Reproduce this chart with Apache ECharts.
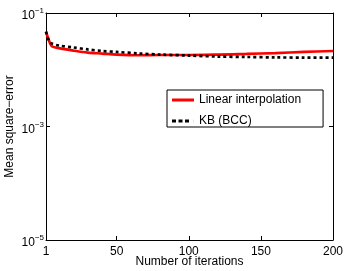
<!DOCTYPE html>
<html><head><meta charset="utf-8">
<script src="https://cdn.jsdelivr.net/npm/echarts@6/dist/echarts.min.js"></script>
<style>html,body{margin:0;padding:0;background:#fff}#c{width:346px;height:271px}</style>
</head><body><div id="c"></div>
<script>
const iterations = [1, 3, 5, 10, 20, 30, 40, 50, 65, 80, 100, 120, 140, 160, 180, 200];
const linearInterp = [0.047, 0.033, 0.026, 0.024, 0.0218, 0.0201, 0.0193, 0.0185, 0.018, 0.0182, 0.0182, 0.0185, 0.019, 0.0197, 0.0206, 0.0214];
const kbBcc = [0.047, 0.033, 0.029, 0.0267, 0.0247, 0.0228, 0.0214, 0.0206, 0.0194, 0.0185, 0.0178, 0.0171, 0.0168, 0.0165, 0.0164, 0.0164];
const xTicks = [1, 50, 100, 150, 200];
const yTicks = [1e-5, 1e-3, 1e-1];
const seriesNames = ['Linear interpolation', 'KB (BCC)'];

const font = 'Liberation Sans, Arial, sans-serif';
const chart = echarts.init(document.getElementById('c'));
const pair = arr => iterations.map((x, i) => [x, arr[i]]);
const expLabel = v => {
  const e = Math.round(Math.log10(v));
  return '{b|10}{s|' + (e < 0 ? '\u2212' : '') + Math.abs(e) + '}';
};
const rich = {
  b: {fontSize: 12, fontFamily: font, color: '#000', padding: [6, 0, 0, 0]},
  s: {fontSize: 8, fontFamily: font, color: '#000', padding: [0, 0, 4, 0]}
};
const solidIcon = 'path://M0,0h22v3h-22z';
const dashIcon = 'path://M0,0h4v3h-4z M6.5,0h4v3h-4z M13,0h4v3h-4z M21.9,0h0.1v3h-0.1z';
chart.setOption({
  animation: false,
  textStyle: {fontFamily: font},
  grid: {left: 46, right: 13, top: 13, bottom: 31, containLabel: false, outerBoundsMode: 'none'},
  xAxis: [{
    type: 'value', min: 1, max: 200,
    name: 'Number of iterations', nameLocation: 'middle', nameGap: 16, nameMoveOverlap: false,
    nameTextStyle: {fontSize: 12, color: '#000', fontFamily: font},
    axisLine: {lineStyle: {color: '#000', width: 1}},
    axisTick: {inside: true, length: 4, customValues: xTicks, lineStyle: {color: '#000'}},
    axisLabel: {customValues: xTicks, fontSize: 12, color: '#000', margin: 6, fontFamily: font},
    splitLine: {show: false}
  }, {
    type: 'value', min: 1, max: 200, position: 'top',
    axisLine: {lineStyle: {color: '#000', width: 1}},
    axisTick: {inside: true, length: 4, customValues: xTicks, lineStyle: {color: '#000'}},
    axisLabel: {show: false}, splitLine: {show: false}
  }],
  yAxis: [{
    type: 'log', logBase: 10, min: 1e-5, max: 1e-1,
    name: 'Mean square\u2212error', nameLocation: 'middle', nameGap: 30, nameMoveOverlap: false,
    nameTextStyle: {fontSize: 12, color: '#000', fontFamily: font},
    axisLine: {show: true, lineStyle: {color: '#000', width: 1}},
    axisTick: {inside: true, length: 4, customValues: yTicks, lineStyle: {color: '#000'}},
    axisLabel: {customValues: yTicks, formatter: expLabel, rich: rich, margin: 2},
    minorTick: {show: false},
    splitLine: {show: false}
  }, {
    type: 'log', logBase: 10, min: 1e-5, max: 1e-1, position: 'right',
    axisLine: {show: true, lineStyle: {color: '#000', width: 1}},
    axisTick: {inside: true, length: 4, customValues: yTicks, lineStyle: {color: '#000'}},
    axisLabel: {show: false}, splitLine: {show: false}
  }],
  legend: {
    orient: 'vertical', left: 167, top: 90,
    padding: [4, 22, 0, 5], itemGap: 9, itemWidth: 22, itemHeight: 3,
    borderColor: '#000', borderWidth: 1, backgroundColor: '#fff',
    textStyle: {fontSize: 12, color: '#000', fontFamily: font},
    data: [{name: seriesNames[0], icon: solidIcon}, {name: seriesNames[1], icon: dashIcon}]
  },
  series: [{
    name: seriesNames[0], type: 'line', data: pair(linearInterp),
    symbol: 'none', smooth: 0.3,
    lineStyle: {color: '#ff0000', width: 2.7}, itemStyle: {color: '#ff0000'}
  }, {
    name: seriesNames[1], type: 'line', data: pair(kbBcc),
    symbol: 'none', smooth: 0.3,
    lineStyle: {color: '#000', width: 2.7, type: [3, 3]}, itemStyle: {color: '#000'}
  }]
});
</script></body></html>
